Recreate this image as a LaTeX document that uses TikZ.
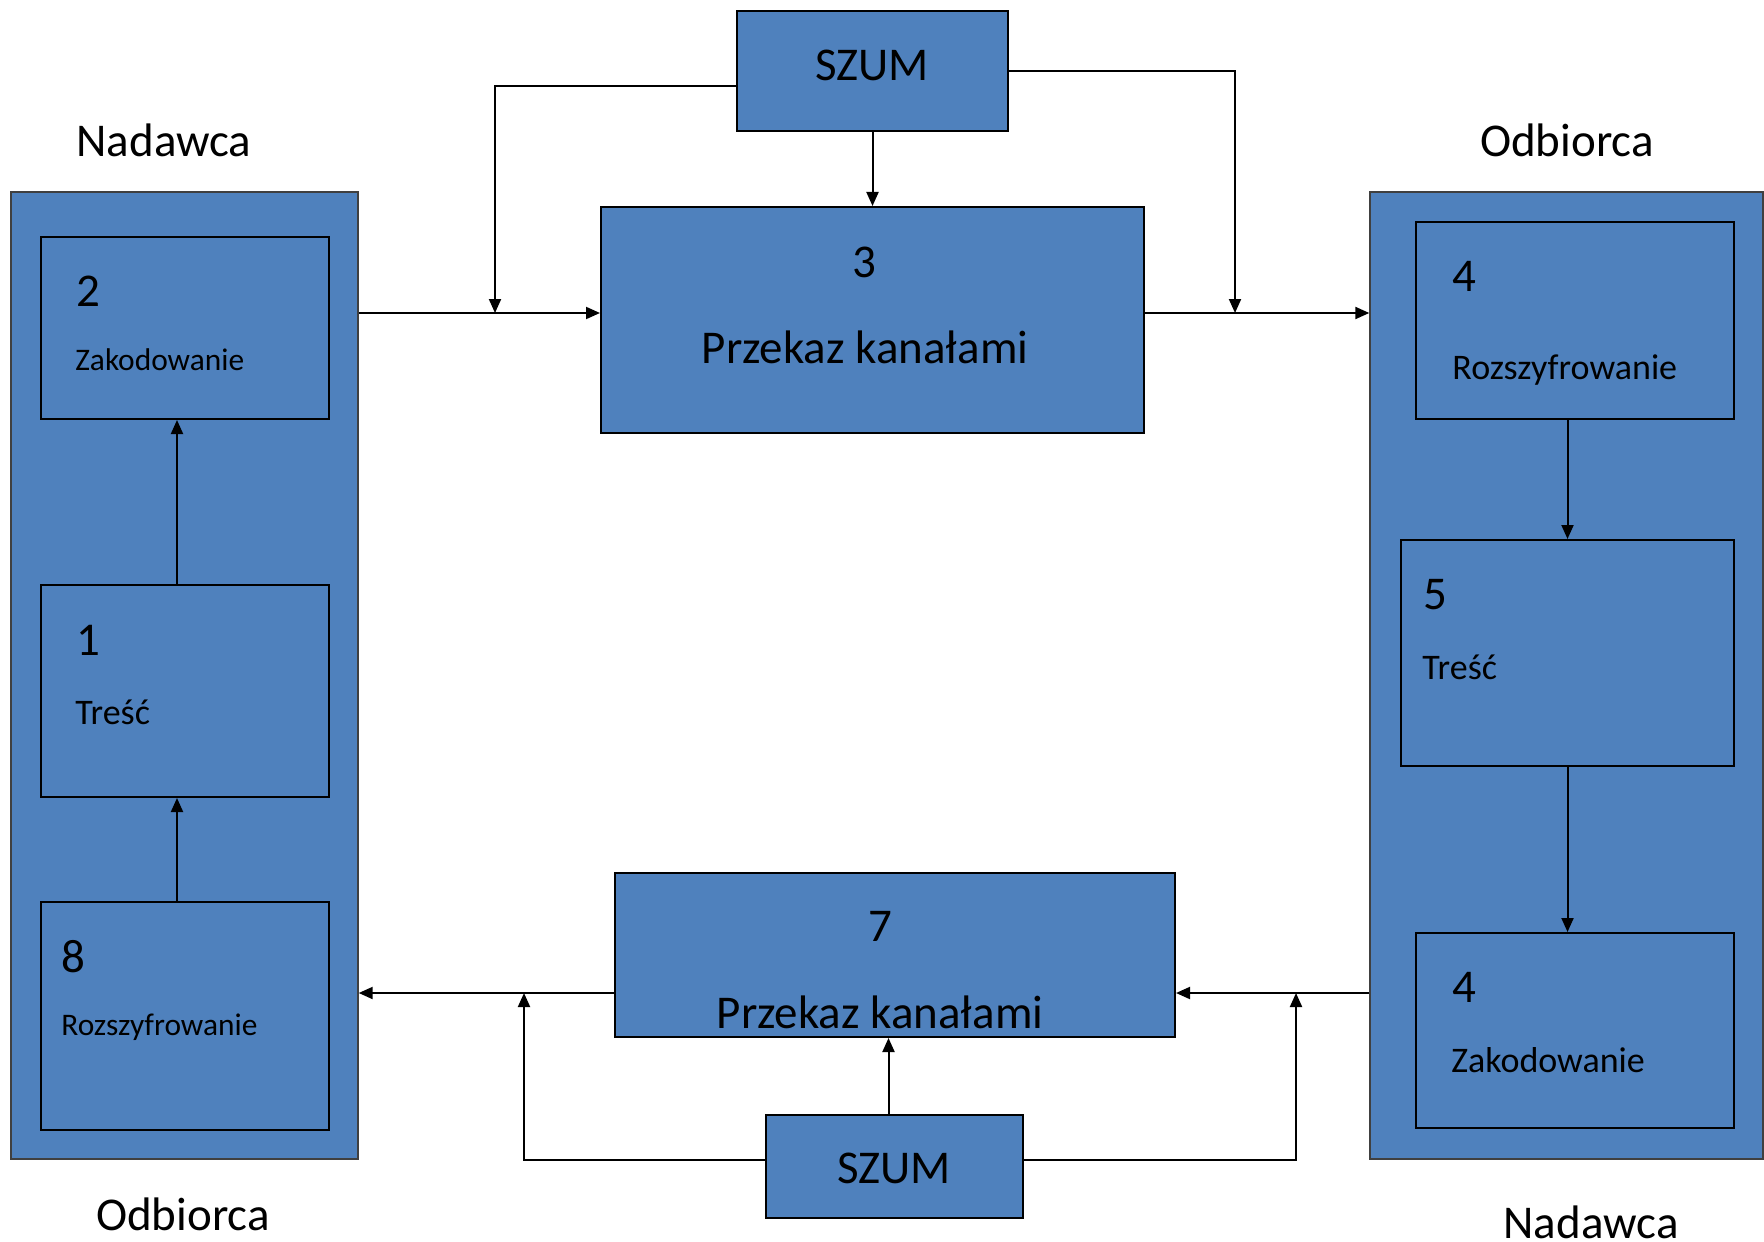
\documentclass[tikz,border=0pt]{standalone}
\usepackage{fontspec}
\setmainfont{Carlito}
\usetikzlibrary{fit,arrows.meta}
\definecolor{blokblue}{HTML}{4F81BD}

\begin{document}
\begin{tikzpicture}[
        x=0.5pt, y=-0.5pt,
        >={Triangle[length=7pt,width=6pt]},
        panel/.style={draw=black!75, fill=blokblue, line width=0.7pt, inner sep=0pt},
        blok/.style={draw=black, fill=blokblue, line width=1pt, inner sep=0pt},
        duzy/.style={font=\fontsize{23.5}{28}\selectfont, yshift=-5.5pt},
        sredni/.style={font=\fontsize{18}{22}\selectfont, yshift=-4pt},
        maly/.style={font=\fontsize{15.7}{19}\selectfont, yshift=-3.5pt},
        txt/.style={inner sep=0pt, anchor=mid west},
        strz/.style={->, line width=1pt}
    ]
        \useasboundingbox (0,0) rectangle (1764,1241);

        % panele nadawcy i odbiorcy
        \node[panel, fit={(11,192) (358,1159)}] (nad) {};
        \node[panel, fit={(1370,192) (1763,1159)}] (odb) {};

        % bloki po lewej
        \node[blok, fit={(41,237) (329,419)}] (zak1) {};
        \node[blok, fit={(41,585) (329,797)}] (tre1) {};
        \node[blok, fit={(41,902) (329,1130)}] (roz1) {};

        % bloki po prawej
        \node[blok, fit={(1416,222) (1734,419)}] (roz2) {};
        \node[blok, fit={(1401,540) (1734,766)}] (tre2) {};
        \node[blok, fit={(1416,933) (1734,1128)}] (zak2) {};

        % kanaly i szum
        \node[blok, fit={(601,207) (1144,433)}] (prz1) {};
        \node[blok, fit={(615,873) (1175,1037)}] (prz2) {};
        \node[blok, fit={(737,11) (1008,131)}] (szum1) {};
        \node[blok, fit={(766,1115) (1023,1218)}] (szum2) {};

        % napisy
        \node[duzy, anchor=mid] (lnad1) at (164,141) {Nadawca};
        \node[duzy, anchor=mid] (lodb1) at (1567,141) {Odbiorca};
        \node[duzy, anchor=mid] (lodb2) at (183,1215) {Odbiorca};
        \node[duzy, anchor=mid] (lnad2) at (1591,1223) {Nadawca};

        \node[duzy, txt] (n2) at (76,291) {2};
        \node[maly, txt] (t2) at (75,359) {Zakodowanie};
        \node[duzy, txt] (n1) at (76,640) {1};
        \node[sredni, txt] (t1) at (75,712) {Treść};
        \node[duzy, txt] (n8) at (61,957) {8};
        \node[maly, txt] (t8) at (61,1024) {Rozszyfrowanie};

        \node[duzy, txt] (n4a) at (1452,276) {4};
        \node[sredni, txt] (t4a) at (1452,367) {Rozszyfrowanie};
        \node[duzy, txt] (n5) at (1423,594) {5};
        \node[sredni, txt] (t5) at (1422,667) {Treść};
        \node[duzy, txt] (n4b) at (1452,987) {4};
        \node[sredni, txt] (t4b) at (1451,1060) {Zakodowanie};

        \node[duzy, anchor=mid] (n3) at (864,262) {3};
        \node[duzy, anchor=mid] (t3) at (865,348) {Przekaz kanałami};
        \node[duzy, anchor=mid] (n7) at (880,926) {7};
        \node[duzy, anchor=mid] (t7) at (880,1013) {Przekaz kanałami};
        \node[duzy, anchor=mid] (s1) at (872,65) {SZUM};
        \node[duzy, anchor=mid] (s2) at (894,1168) {SZUM};

        % punkty wezlowe
        \coordinate (gora) at (0,313);
        \coordinate (dol) at (0,993);
        \coordinate (jl) at (495,313);
        \coordinate (jr) at (1235,313);
        \coordinate (kl) at (524,993);
        \coordinate (kr) at (1296,993);

        % polaczenia
        \draw[strz] (nad.east |- gora) -- (prz1.west |- gora);
        \draw[strz] (prz1.east |- gora) -- (odb.west |- gora);
        \draw[strz] (szum1.south) -- (szum1.south |- prz1.north);
        \draw[strz] ([yshift=-7.5pt]szum1.west) -| (jl);
        \draw[strz] (szum1.east) -| (jr);

        \draw[strz] (odb.west |- dol) -- (prz2.east |- dol);
        \draw[strz] (prz2.west |- dol) -- (nad.east |- dol);
        \draw[strz] ([xshift=-3pt]szum2.north) -- ([xshift=-3pt]szum2.north |- prz2.south);
        \draw[strz] ([yshift=3.5pt]szum2.west) -| (kl);
        \draw[strz] ([yshift=3.5pt]szum2.east) -| (kr);

        \draw[strz] ([xshift=-4pt]tre1.north) -- ([xshift=-4pt]zak1.south);
        \draw[strz] ([xshift=-4pt]roz1.north) -- ([xshift=-4pt]tre1.south);
        \draw[strz] (roz2.south -| tre2.north) -- (tre2.north);
        \draw[strz] (tre2.south) -- (tre2.south |- zak2.north);
    \end{tikzpicture}
\end{document}
